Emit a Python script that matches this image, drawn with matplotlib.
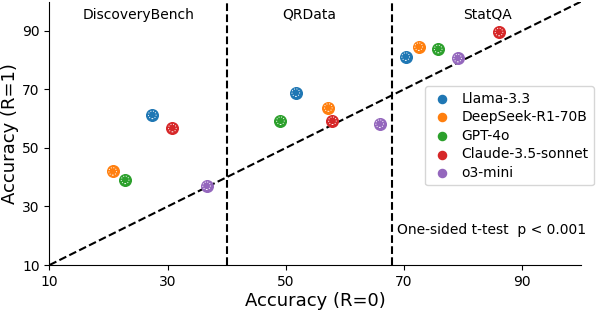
import matplotlib.pyplot as plt
import numpy as np

models = ['Llama-3.3', 'DeepSeek-R1-70B', 'GPT-4o', 'Claude-3.5-sonnet', 'o3-mini']
colors = ['#1f77b4', '#ff7f0e', '#2ca02c', '#d62728', '#9467bd']
benchmarks = ['DiscoveryBench', 'QRData', 'StatQA']

# accuracy without (R=0) and with (R=1) per benchmark, order follows models
acc_r0 = {
    'DiscoveryBench': [27.4, 20.7, 22.8, 30.8, 36.6],
    'QRData': [51.7, 57.2, 49.1, 57.9, 65.9],
    'StatQA': [70.3, 72.5, 75.8, 86.1, 79.1],
}
acc_r1 = {
    'DiscoveryBench': [61.3, 42.0, 39.1, 56.8, 37.1],
    'QRData': [68.9, 63.8, 59.3, 59.3, 58.3],
    'StatQA': [81.2, 84.6, 83.8, 89.6, 80.7],
}
splits = [40, 68]
ticks = [10, 30, 50, 70, 90]

fig, ax = plt.subplots(figsize=(5.96, 3.10), dpi=100)
fig.subplots_adjust(left=0.083, right=0.975, bottom=0.145, top=0.995)

for i, (m, c) in enumerate(zip(models, colors)):
    xs = [acc_r0[b][i] for b in benchmarks]
    ys = [acc_r1[b][i] for b in benchmarks]
    ax.scatter(xs, ys, s=70, color=c, edgecolor=c, zorder=3, label=m)
    ax.scatter(xs, ys, s=30, facecolors='none', edgecolors='white',
               linewidths=0.7, linestyles=':', zorder=4)

ax.plot([10, 100], [10, 100], 'k--', lw=1.5, zorder=2)
for s in splits:
    ax.axvline(s, color='k', ls='--', lw=1.5, zorder=2)

ax.text(25, 95.5, 'DiscoveryBench', ha='center', va='center', fontsize=10)
ax.text(54, 95.5, 'QRData', ha='center', va='center', fontsize=10)
ax.text(84.1, 95.5, 'StatQA', ha='center', va='center', fontsize=10)
ax.text(68.9, 22, 'One-sided t-test  p < 0.001', ha='left', va='center',
        fontsize=10, clip_on=False)

ax.set_xlim(10, 100)
ax.set_ylim(10, 100)
ax.set_xticks(ticks)
ax.set_yticks(ticks)
ax.tick_params(labelsize=10)
ax.set_xlabel('Accuracy (R=0)', fontsize=13, labelpad=2)
ax.set_ylabel('Accuracy (R=1)', fontsize=13, labelpad=2)
ax.spines['top'].set_visible(False)
ax.spines['right'].set_visible(False)

ax.legend(loc='upper right', bbox_to_anchor=(594 / 596, 1 - 86 / 310),
          bbox_transform=fig.transFigure, fontsize=10, frameon=True,
          markerscale=0.7, labelspacing=0.33, handletextpad=0.6,
          handlelength=1.6, borderaxespad=0)

fig.savefig('out.png')
